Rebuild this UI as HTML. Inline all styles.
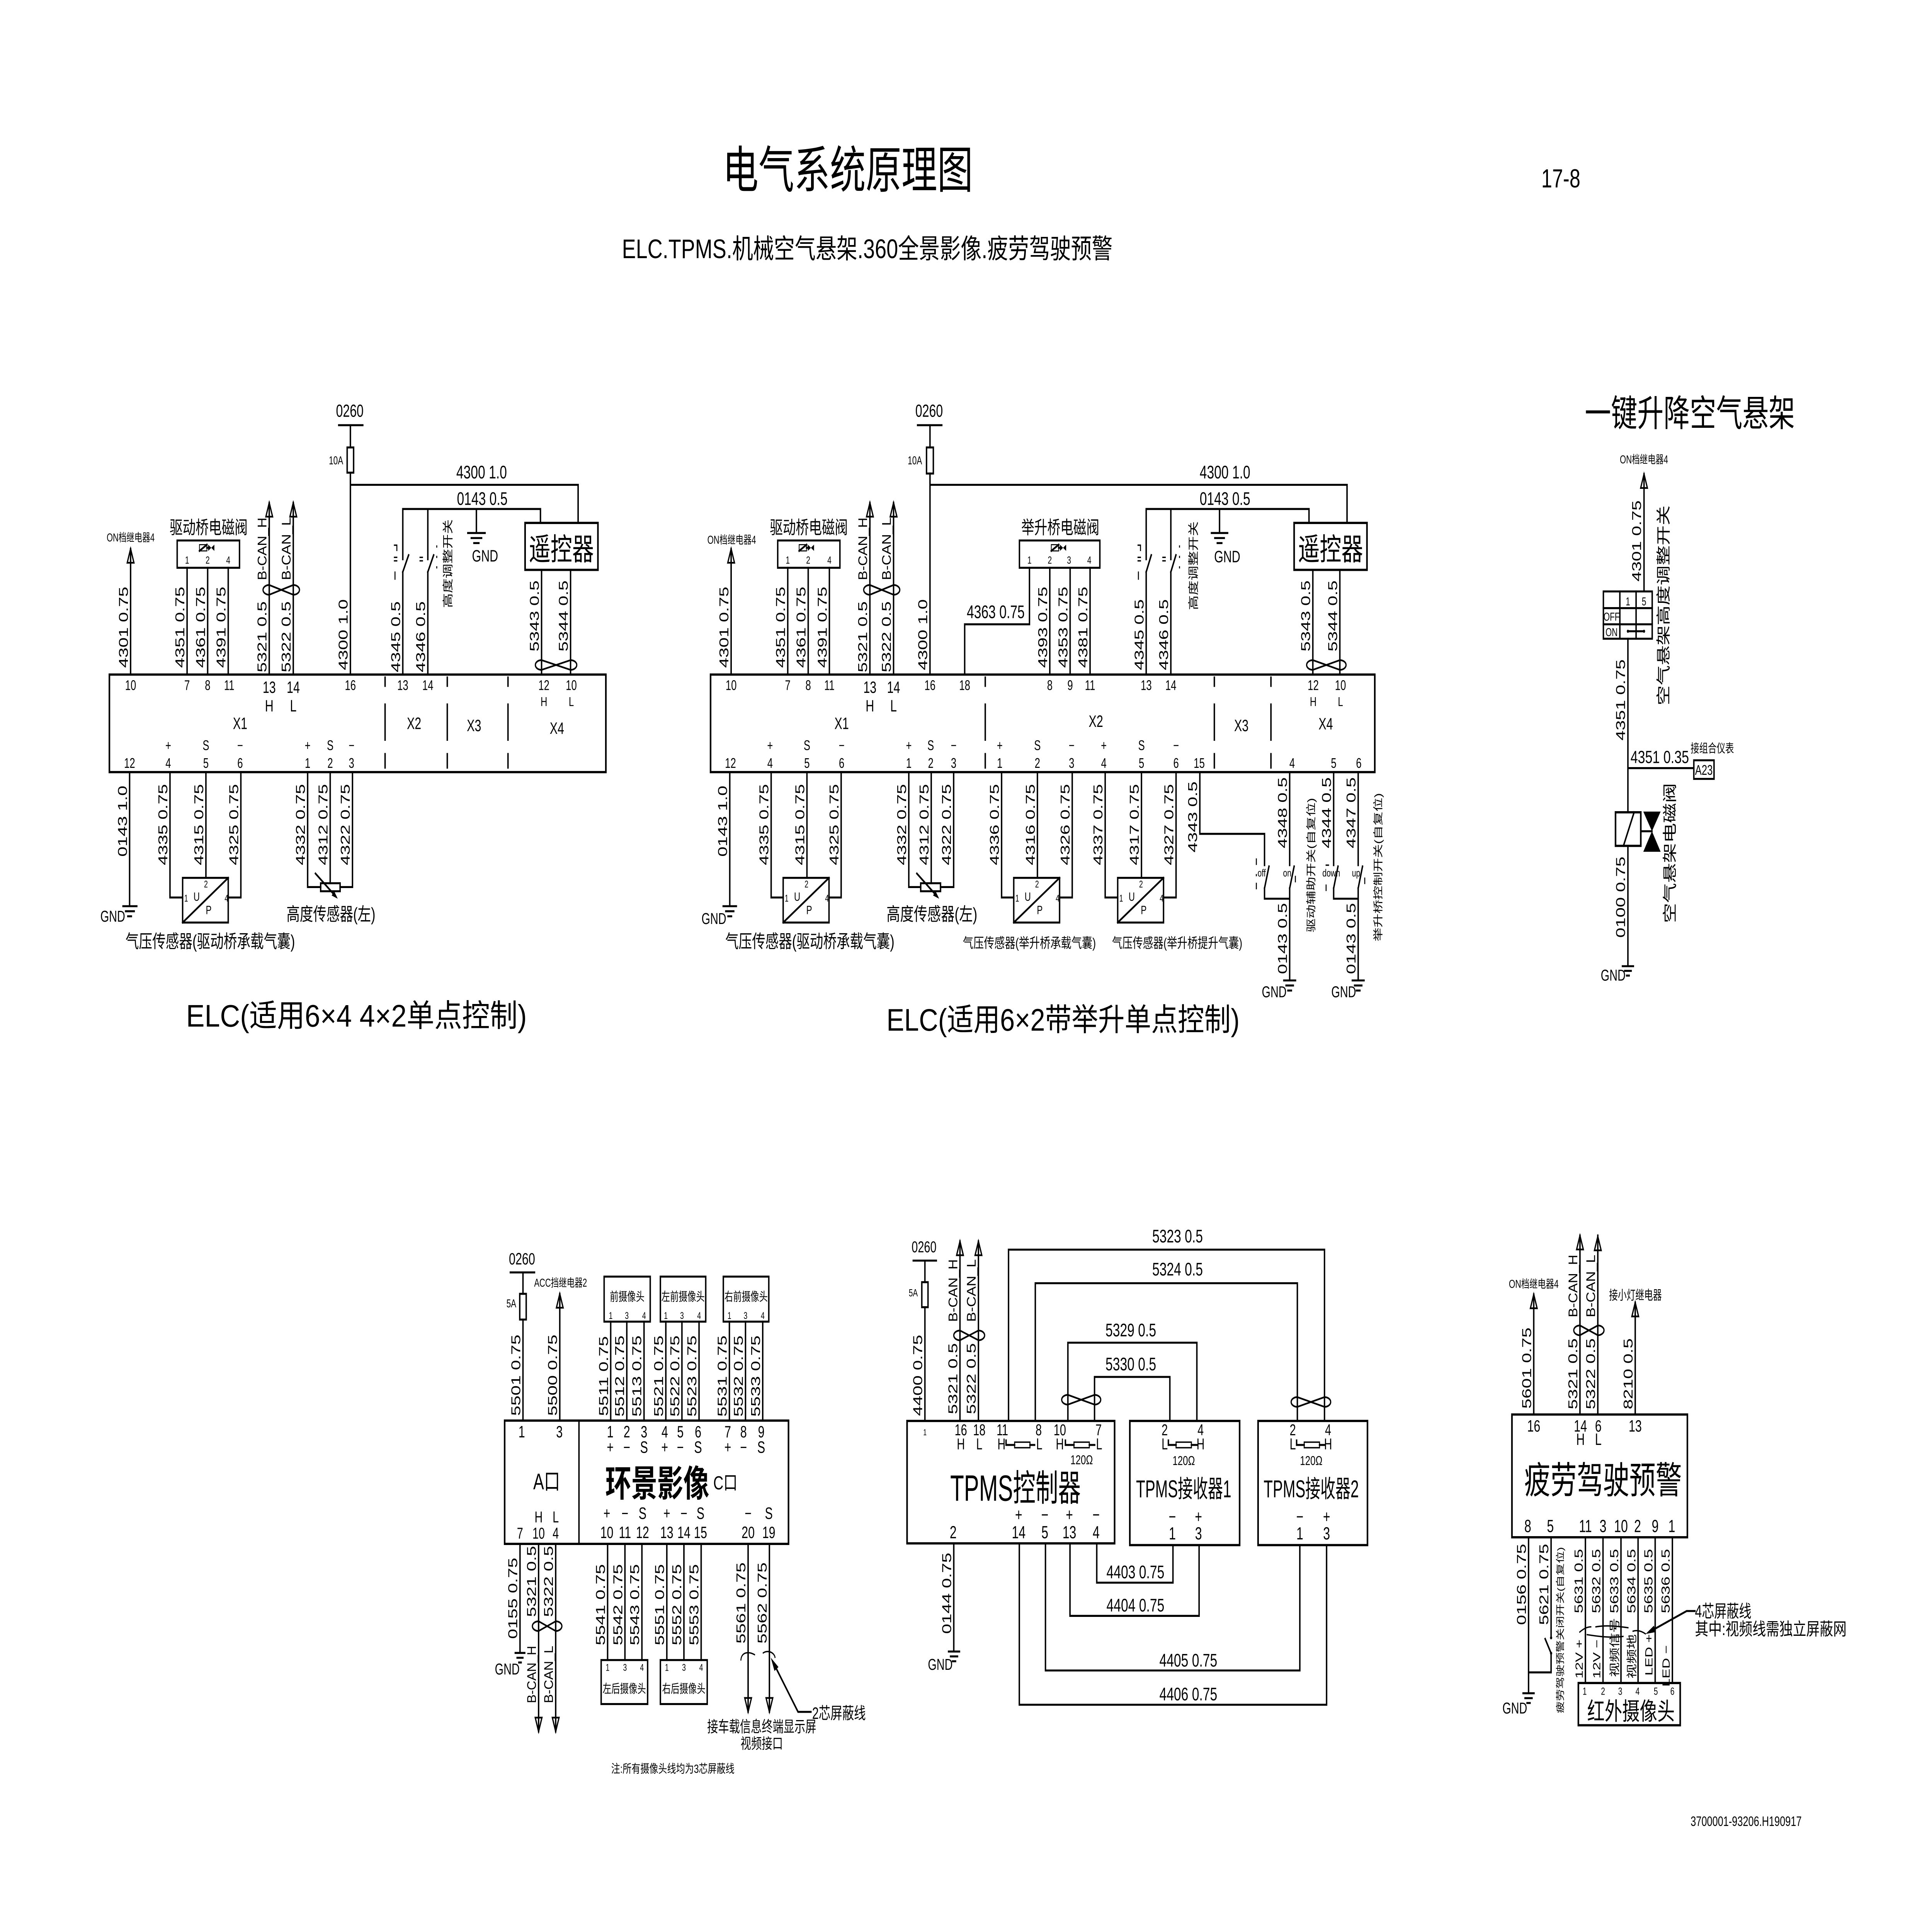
<!DOCTYPE html>
<html><head><meta charset="utf-8"><style>
html,body{margin:0;padding:0;background:#fff;width:100%;height:100%;overflow:hidden}
svg{display:block;width:100vw;height:100vh}
text{font-family:"Liberation Sans","Noto Sans CJK SC",sans-serif;fill:#000;stroke:none}
.m{text-anchor:middle}
.r{text-anchor:middle}
</style></head><body>
<svg xmlns="http://www.w3.org/2000/svg" viewBox="0 0 1559.33 1101.78" preserveAspectRatio="none">
<rect x="0" y="0" width="1559.33" height="1101.78" fill="#fff"/>

<!-- ================= LINES ================= -->
<g fill="none" stroke="#000" stroke-width="1.15" stroke-linecap="square">
<!-- LEFT ELC -->
<rect x="88.3" y="387.9" width="400.7" height="56.1" stroke-width="1.3"/>
<path d="M273.4,244.5H292.8 M282.8,244.5V257.3 M282.8,271.8V387.9 M282.8,278.8H466.6V300.7 M325.1,321.6V292.7H436.2V300.7 M345.3,321.6V292.7 M384.5,292.7V306.5 M377.6,306.5H391.5 M380.4,309.4H388.7 M382.5,312.3H386.5 M325.1,328.9V387.9 M325.1,328.9L329.8,319.2 M345.3,328.9V387.9 M345.3,328.9L350,319.2 M437.1,327.7V387.9 M460.5,327.7V387.9 M105.4,315.6V387.9 M151,326.5V387.9 M167.6,326.5V387.9 M184.2,326.5V387.9 M217.3,289.1V387.9 M236.7,289.1V387.9 M104.6,444V521.1 M99.3,521.1H110.4 M101.4,524H108.3 M103.2,526.9H106 M137.2,444V516.1H147.4 M166.2,444V504.8 M194.4,444V516.1H184.2 M147.4,530.5L184.2,504.8 M248.3,444V510.1H258.8 M284.5,444V510.1H274.5 M266.5,444V507.9 M254.6,502.3L271,515.5 M161,316.8L167,313.2 M167,315H168"/>
<rect x="280.2" y="257.3" width="5.2" height="14.5"/>
<rect x="423.8" y="300.7" width="58.8" height="27" stroke-width="1.3"/>
<rect x="143" y="310.8" width="50.3" height="15.7"/>
<rect x="161" y="313.2" width="6" height="3.6" stroke-width="0.6"/>
<rect x="147.4" y="504.8" width="36.8" height="25.7"/>
<rect x="258.8" y="507.9" width="15.7" height="4.6"/>
<path d="M318.3,313.5h2v3 M318.3,320.5h2 M318.3,322.5h2 M318.8,329v4 M339,320.5h2 M339,322.5h2 M352.5,314v0.5 M352.5,320v0.5 M352.5,326v0.5" stroke-width="0.8"/>

<!-- MIDDLE ELC -->
<rect x="573.5" y="387.9" width="536.1" height="56.1" stroke-width="1.3"/>
<path d="M740.6,244.5H760.1 M750.6,244.5V257.3 M750.6,272.3V387.9 M750.6,278.8H1087.2V300.7 M925.1,321.6V292.7H1056.5V300.7 M945,321.6V292.7 M984.3,292.7V306.5 M977.8,306.5H990.8 M980.5,309.4H988.1 M982.5,312.3H986.1 M925.1,328.9V387.9 M925.1,328.9L929.2,319.2 M945,328.9V387.9 M945,328.9L949.1,319.2 M1059.6,327.7V387.9 M1081.4,327.7V387.9 M590.1,315.6V387.9 M635.8,326.5V387.9 M652.3,326.5V387.9 M669.4,326.5V387.9 M702.1,289.1V387.9 M721.2,289.1V387.9 M778.6,387.9V359H830.9V326.5 M847.3,326.5V387.9 M863.7,326.5V387.9 M879.8,326.5V387.9 M589,444V521.1 M583.7,521.1H594.3 M585.8,524H592.2 M587.6,526.9H590.4 M622.4,444V516.1H632.1 M651.3,444V504.8 M678.9,444V516.1H669.1 M632.1,530.5L669.1,504.8 M733.5,444V510.1H743.1 M769.7,444V510.1H759.1 M751.6,444V507.9 M740,502.3L756.4,515.5 M808.4,444V516.1H818.2 M837.3,444V504.8 M865.4,444V516.1H855.2 M818.2,530.5L855.2,504.8 M892,444V516.1H902.1 M921.3,444V504.8 M949.2,444V516.1H939.1 M902.1,530.5L939.1,504.8 M968.4,444V479.5H1020.6V497.5 M1020.6,510.8L1024.2,498.2 M1020.6,510.8V516.8H1040.9 M1040.9,444V497.5 M1040.9,510.8L1044.5,498.2 M1040.9,510.8V563.8 M1036.2,563.8H1045.6 M1038,566.7H1043.8 M1039.5,569.6H1042.3 M1076.4,444V497.5 M1076.4,510.8L1079.9,498.2 M1076.4,510.8V516.8H1096.2 M1096.2,444V497.5 M1096.2,510.8L1099.7,498.2 M1096.2,510.8V563.8 M1091.5,563.8H1100.9 M1093.3,566.7H1099.1 M1094.8,569.6H1097.6 M645,316.8L651,313.2 M651,315H652 M848.5,316.8L854.5,313.2 M854.5,315H855.5"/>
<rect x="747.8" y="257.3" width="5.5" height="15"/>
<rect x="1044.5" y="300.7" width="58.8" height="27" stroke-width="1.3"/>
<rect x="627.7" y="310.8" width="50.2" height="15.7"/>
<rect x="822.8" y="310.8" width="64.9" height="15.7"/>
<rect x="645" y="313.2" width="6" height="3.6" stroke-width="0.6"/>
<rect x="848.5" y="313.2" width="6" height="3.6" stroke-width="0.6"/>
<rect x="632.1" y="504.8" width="37" height="25.7"/>
<rect x="818.2" y="504.8" width="37" height="25.7"/>
<rect x="902.1" y="504.8" width="37" height="25.7"/>
<rect x="743.1" y="507.9" width="16" height="4.6"/>
<path d="M918.5,313.5h2v3 M918.5,320.5h2 M918.5,322.5h2 M918.8,329v4 M938.5,320.5h2 M938.5,322.5h2 M952,314v0.5 M952,320v0.5 M952,326v0.5 M1014,494v3 M1014,503v0.5 M1014,508v3 M1045.5,504v3 M1070.3,497.5h2 M1070.3,509v3 M1101.5,505v3" stroke-width="0.8"/>

<!-- TOP RIGHT -->
<path d="M1326.9,272.6V340.1 M1313.9,367.3V467.1 M1313.9,441.7H1367.1 M1313.9,486.4V555.6 M1309.5,555.6H1318.3 M1311.3,558.3H1316.5 M1312.9,561H1314.9 M1294.1,349.7H1333.5 M1294.1,359H1333.5 M1307.4,340.1V367.3 M1320.5,340.1V367.3 M1313.9,363H1326.9 M1310.3,486.4L1318.9,467.1 M1324.3,478H1333.3"/>
<rect x="1294.1" y="340.1" width="39.4" height="27.2"/>
<rect x="1303.9" y="467.1" width="20.4" height="19.3" stroke-width="1.3"/>
<rect x="1367.1" y="437.2" width="16.3" height="10.7"/>

<!-- BOTTOM LEFT -->
<path d="M411.9,731.7H431.4 M422.1,731.7V744 M422.1,758.8V816.9 M451.8,744V816.9 M467.3,816.9V887.8 M492.9,760V816.9 M505.9,760V816.9 M519.8,760V816.9 M537.4,760V816.9 M550.4,760V816.9 M564.2,760V816.9 M588.7,760V816.9 M601.7,760V816.9 M615.6,760V816.9 M419.7,887.8V950.5 M415.9,950.5H423.5 M417.4,953.3H422 M418.8,956H420.6 M434.7,887.8V995.7 M448.5,887.8V995.7 M490.4,887.8V954.6 M504.4,887.8V954.6 M518.1,887.8V954.6 M538.2,887.8V954.6 M552,887.8V954.6 M565.9,887.8V954.6 M603.8,887.8V984.4 M621,887.8V984.4 M625.5,958L644.1,984.4H654.5"/>
<path d="M598,954.5C598.5,950 604,949.5 609,951.5 M616,950.5C620,948.5 625,950.5 625.5,953" stroke-width="0.8"/>
<rect x="419.5" y="744" width="5.2" height="14.8"/>
<rect x="407.3" y="816.9" width="229.1" height="70.9" stroke-width="1.3"/>
<rect x="487.6" y="734.1" width="37.2" height="25.9"/>
<rect x="533" y="734.1" width="36.6" height="25.9"/>
<rect x="583.8" y="734.1" width="36.7" height="25.9"/>
<rect x="485.2" y="954.6" width="37.5" height="25.3"/>
<rect x="533" y="954.6" width="37.8" height="25.3"/>

<!-- TPMS -->
<path d="M737.1,724.9H755.7 M746.5,724.9V737.3 M746.5,751.7V817.1 M774.8,713.8V817.1 M789.7,713.8V817.1 M814,817.1V718.6H1069V817.1 M835.6,817.1V737.9H1047.1V817.1 M861.9,817.1V772.1H966V817.1 M883.4,817.1V791.8H944.2V817.1 M769.8,887.5V949.7 M765.6,949.7H774.4 M767.2,952.5H772.8 M768.8,955.3H771.2 M885.2,887.5V910.1H946.7V888.5 M863.6,887.5V929.2H967.8V888.5 M843.8,887.5V960.6H1049.1V888.5 M822.7,887.5V980.3H1070.7V888.5 M812,828.3V830.9H818.9 M831.3,830.9H835 M859.9,828.3V830.9H866.8 M879.2,830.9H883.5 M943,828.3V830.9H949.2 M961.6,830.9H966 M1046.5,828.3V830.9H1052.6 M1065,830.9H1069"/>
<rect x="744" y="737.3" width="5" height="14.4"/>
<rect x="732.1" y="817.1" width="167.5" height="70.4" stroke-width="1.3"/>
<rect x="911.9" y="817.1" width="88.6" height="71.4" stroke-width="1.3"/>
<rect x="1015.4" y="817.1" width="88.3" height="71.4" stroke-width="1.3"/>
<rect x="818.9" y="829.3" width="12.4" height="3.2" stroke-width="0.8"/>
<rect x="866.8" y="829.3" width="12.4" height="3.2" stroke-width="0.8"/>
<rect x="949.2" y="829.3" width="12.4" height="3.2" stroke-width="0.8"/>
<rect x="1052.6" y="829.3" width="12.4" height="3.2" stroke-width="0.8"/>

<!-- BOTTOM RIGHT -->
<path d="M1237.9,744.3V813.4 M1275.2,710.5V813.4 M1289.6,710.5V813.4 M1319.8,749V813.4 M1233.7,884V973.7 M1229.3,973.7H1238.1 M1230.9,976.5H1236.5 M1232.5,979.3H1234.9 M1251.9,884V941.8 M1251.9,950.7L1247.1,942.4 M1251.9,950.7V961.7H1233.7 M1279.6,884V967.8 M1293.8,884V967.8 M1308.3,884V967.8 M1322.1,884V967.8 M1335.9,884V967.8 M1349.8,884V967.8 M1334,937.3L1361.3,926.4H1368"/>
<path d="M1275,938.5C1279,936 1282,935.5 1284,935.5 M1288,935.5C1296,934.5 1304,935 1314,936 M1281,940C1290,941 1300,942 1310,941 M1318,938C1322,937 1326,938.5 1328,939.5" stroke-width="0.8"/>
<rect x="1220.3" y="813.4" width="141.6" height="70.6" stroke-width="1.3"/>
<rect x="1273.9" y="967.8" width="82.2" height="24.3" stroke-width="1.3"/>

<!-- twisted pair symbols -->
<path stroke-width="1" d="
M217.3,336.4L236.7,342 A5 2.8 0 0 0 236.7,336.4 L217.3,342 A5 2.8 0 0 1 217.3,336.4Z
M437.1,379.6L460.5,385.2 A5 2.8 0 0 0 460.5,379.6 L437.1,385.2 A5 2.8 0 0 1 437.1,379.6Z
M702.1,336.4L721.2,342 A5 2.8 0 0 0 721.2,336.4 L702.1,342 A5 2.8 0 0 1 702.1,336.4Z
M1059.6,379.6L1081.4,385.2 A5 2.8 0 0 0 1081.4,379.6 L1059.6,385.2 A5 2.8 0 0 1 1059.6,379.6Z
M434.7,932.3L448.5,937.9 A5 2.8 0 0 0 448.5,932.3 L434.7,937.9 A5 2.8 0 0 1 434.7,932.3Z
M774.8,765.1L789.7,770.7 A5 2.8 0 0 0 789.7,765.1 L774.8,770.7 A5 2.8 0 0 1 774.8,765.1Z
M861.9,802.1L883.4,807.7 A5 2.8 0 0 0 883.4,802.1 L861.9,807.7 A5 2.8 0 0 1 861.9,802.1Z
M1047.1,803.4L1069,809 A5 2.8 0 0 0 1069,803.4 L1047.1,809 A5 2.8 0 0 1 1047.1,803.4Z
M1275.2,762.2L1289.6,767.8 A5 2.8 0 0 0 1289.6,762.2 L1275.2,767.8 A5 2.8 0 0 1 1275.2,762.2Z"/>

<!-- open arrowheads -->
<path stroke-width="1" d="
M105.4,315.6L102.7,323.6H108.1Z M217.3,289.1L214.6,297.1H220Z M236.7,289.1L234,297.1H239.4Z
M590.1,315.6L587.4,323.6H592.8Z M702.1,289.1L699.4,297.1H704.8Z M721.2,289.1L718.5,297.1H723.9Z
M1326.9,272.6L1324.2,280.6H1329.6Z M451.8,744L449.1,752H454.5Z
M774.8,713.8L772.1,721.8H777.5Z M789.7,713.8L787,721.8H792.4Z
M1237.9,744.3L1235.2,752.3H1240.6Z M1275.2,710.5L1272.5,718.5H1277.9Z M1289.6,711L1286.9,719H1292.3Z M1319.8,749L1317.1,757H1322.5Z
M434.7,995.7L432,987.7H437.4Z M448.5,995.7L445.8,987.7H451.2Z M603.8,984.4L601.1,976.4H606.5Z M621,984.4L618.3,976.4H623.7Z"/>
</g>

<!-- dashed dividers -->
<g fill="none" stroke="#000" stroke-width="1.15" stroke-dasharray="6 9.5 21.5 7 9">
<path d="M310.8,389V444 M361,389V444 M410,389V444 M795.2,389V444 M980.1,389V444 M1025.8,389V444"/>
</g>

<!-- filled shapes -->
<g fill="#000" stroke="none">
<polygon points="168,313.2 173,316.8 173,313.2 168,316.8"/>
<polygon points="652,313.2 657,316.8 657,313.2 652,316.8"/>
<polygon points="855.5,313.2 860.5,316.8 860.5,313.2 855.5,316.8"/>
<polygon points="272.6,516.8 267.7,514.95 269.7,512.45"/>
<polygon points="758,516.8 753.1,514.95 755.1,512.45"/>
<polygon points="1326.3,466.7 1340.3,466.7 1333.3,478"/>
<polygon points="1326.3,489.8 1340.3,489.8 1333.3,478"/>
<polygon points="622.1,953.2 628.3,958.6 625.1,960.9"/>
<polygon points="1328.2,939.6 1336.3,938.5 1334.9,934.8"/>
<circle cx="1313.9" cy="363" r="0.9"/><circle cx="1326.9" cy="363" r="0.9"/>
<circle cx="1251.9" cy="941.8" r="0.9"/><circle cx="1251.9" cy="950.7" r="0.9"/>
</g>

<!-- ================= TEXT ================= -->
<g>
<text x="583.3" y="108" font-size="29" textLength="202" lengthAdjust="spacingAndGlyphs">电气系统原理图</text>
<text x="1244" y="107.8" font-size="15" textLength="31.5" lengthAdjust="spacingAndGlyphs">17-8</text>
<text x="502" y="148.5" font-size="15.5" textLength="396" lengthAdjust="spacingAndGlyphs">ELC.TPMS.机械空气悬架.360全景影像.疲劳驾驶预警</text>
<text x="1364.5" y="1050" font-size="7.8" textLength="89.6" lengthAdjust="spacingAndGlyphs">3700001-93206.H190917</text>

<!-- LEFT ELC text -->
<text class="m" x="282.3" y="239.7" font-size="10">0260</text>
<text class="m" x="271.2" y="267" font-size="6.5">10A</text>
<text class="m" x="388.7" y="275.1" font-size="10.5">4300 1.0</text>
<text class="m" x="389.2" y="290.3" font-size="10.5">0143 0.5</text>
<text class="m" x="391.5" y="322.9" font-size="9.5">GND</text>
<text class="m" x="453.1" y="322" font-size="17.5">遥控器</text>
<text x="86.1" y="311.3" font-size="6.5" textLength="38.7" lengthAdjust="spacingAndGlyphs">ON档继电器4</text>
<text class="m" x="168.4" y="307" font-size="10.5">驱动桥电磁阀</text>
<g font-size="6"><text class="m" x="151" y="324.1">1</text><text class="m" x="167.6" y="324.1">2</text><text class="m" x="184.2" y="324.1">4</text></g>
<g font-size="8">
<text class="m" x="105.4" y="396.8">10</text><text class="m" x="151" y="396.8">7</text><text class="m" x="167.6" y="396.8">8</text><text class="m" x="185" y="396.8">11</text><text class="m" x="282.8" y="396.8">16</text><text class="m" x="325.1" y="396.8">13</text><text class="m" x="345.3" y="396.8">14</text><text class="m" x="439" y="396.8">12</text><text class="m" x="461.1" y="396.8">10</text>
</g>
<g font-size="9.5">
<text class="m" x="217.3" y="398.5">13</text><text class="m" x="236.7" y="398.5">14</text><text class="m" x="217.3" y="409.1">H</text><text class="m" x="236.7" y="409.1">L</text>
<text class="m" x="193.8" y="419.2">X1</text><text class="m" x="334.2" y="419.2">X2</text><text class="m" x="382.6" y="420.5">X3</text><text class="m" x="449.5" y="422">X4</text>
</g>
<g font-size="7.5"><text class="m" x="439" y="406">H</text><text class="m" x="461.1" y="406">L</text></g>
<g font-size="8">
<text class="m" x="135.8" y="431.3">+</text><text class="m" x="166.2" y="431.3">S</text><text class="m" x="193.8" y="431.3">−</text><text class="m" x="248.3" y="431.3">+</text><text class="m" x="266.5" y="431.3">S</text><text class="m" x="283.7" y="431.3">−</text>
<text class="m" x="104.6" y="441.6">12</text><text class="m" x="135.8" y="441.6">4</text><text class="m" x="166.2" y="441.6">5</text><text class="m" x="193.8" y="441.6">6</text><text class="m" x="248.3" y="441.6">1</text><text class="m" x="266.5" y="441.6">2</text><text class="m" x="283.7" y="441.6">3</text>
</g>
<text class="m" x="91" y="530" font-size="9">GND</text>
<g font-size="7"><text class="m" x="158.7" y="518">U</text><text class="m" x="168.4" y="525.7">P</text></g>
<g font-size="5.5"><text class="m" x="150.2" y="518.5">1</text><text class="m" x="166.2" y="510.3">2</text><text class="m" x="182.8" y="518.5">4</text></g>
<text x="101.3" y="545" font-size="10.5" textLength="136.8" lengthAdjust="spacingAndGlyphs">气压传感器(驱动桥承载气囊)</text>
<text x="231.2" y="529.3" font-size="10.5" textLength="71.8" lengthAdjust="spacingAndGlyphs">高度传感器(左)</text>
<text x="150.2" y="590.3" font-size="18" textLength="275" lengthAdjust="spacingAndGlyphs">ELC(适用6×4 4×2单点控制)</text>

<!-- MIDDLE ELC text -->
<text class="m" x="749.9" y="239.7" font-size="10">0260</text>
<text class="m" x="738.4" y="267" font-size="6.5">10A</text>
<text class="m" x="988.7" y="275.1" font-size="10.5">4300 1.0</text>
<text class="m" x="988.7" y="290.3" font-size="10.5">0143 0.5</text>
<text class="m" x="990.5" y="323.3" font-size="9.5">GND</text>
<text class="m" x="1073.9" y="322" font-size="17.5">遥控器</text>
<text x="570.9" y="312.7" font-size="6.5" textLength="39.3" lengthAdjust="spacingAndGlyphs">ON档继电器4</text>
<text class="m" x="652.8" y="307" font-size="10.5">驱动桥电磁阀</text>
<text class="m" x="855.8" y="307" font-size="10.5">举升桥电磁阀</text>
<g font-size="6">
<text class="m" x="635.8" y="324.1">1</text><text class="m" x="652.3" y="324.1">2</text><text class="m" x="669.4" y="324.1">4</text>
<text class="m" x="830.9" y="324.1">1</text><text class="m" x="847.3" y="324.1">2</text><text class="m" x="862.8" y="324.1">3</text><text class="m" x="879.2" y="324.1">4</text>
</g>
<text x="780.3" y="355.4" font-size="10.5">4363 0.75</text>
<g font-size="8">
<text class="m" x="590.1" y="396.8">10</text><text class="m" x="635.8" y="396.8">7</text><text class="m" x="652.3" y="396.8">8</text><text class="m" x="669.4" y="396.8">11</text><text class="m" x="750.6" y="396.8">16</text><text class="m" x="778.6" y="396.8">18</text><text class="m" x="847.3" y="396.8">8</text><text class="m" x="863.7" y="396.8">9</text><text class="m" x="879.8" y="396.8">11</text><text class="m" x="925.1" y="396.8">13</text><text class="m" x="945" y="396.8">14</text><text class="m" x="1059.9" y="396.8">12</text><text class="m" x="1081.9" y="396.8">10</text>
</g>
<g font-size="9.5">
<text class="m" x="702.1" y="398.5">13</text><text class="m" x="721.2" y="398.5">14</text><text class="m" x="702.1" y="409.1">H</text><text class="m" x="721.2" y="409.1">L</text>
<text class="m" x="679.3" y="419.2">X1</text><text class="m" x="884.5" y="418">X2</text><text class="m" x="1001.9" y="420.5">X3</text><text class="m" x="1070" y="419.5">X4</text>
</g>
<g font-size="7.5"><text class="m" x="1059.9" y="406">H</text><text class="m" x="1081.9" y="406">L</text></g>
<g font-size="8">
<text class="m" x="621.5" y="431.3">+</text><text class="m" x="651.3" y="431.3">S</text><text class="m" x="679.3" y="431.3">−</text>
<text class="m" x="733.5" y="431.3">+</text><text class="m" x="751.2" y="431.3">S</text><text class="m" x="769.7" y="431.3">−</text>
<text class="m" x="806.9" y="431.3">+</text><text class="m" x="837.3" y="431.3">S</text><text class="m" x="864.9" y="431.3">−</text>
<text class="m" x="890.9" y="431.3">+</text><text class="m" x="921.3" y="431.3">S</text><text class="m" x="949.2" y="431.3">−</text>
<text class="m" x="589.6" y="441.6">12</text><text class="m" x="621.5" y="441.6">4</text><text class="m" x="651.3" y="441.6">5</text><text class="m" x="679.3" y="441.6">6</text>
<text class="m" x="733.5" y="441.6">1</text><text class="m" x="751.2" y="441.6">2</text><text class="m" x="769.7" y="441.6">3</text>
<text class="m" x="806.9" y="441.6">1</text><text class="m" x="837.3" y="441.6">2</text><text class="m" x="864.9" y="441.6">3</text>
<text class="m" x="890.9" y="441.6">4</text><text class="m" x="921.3" y="441.6">5</text><text class="m" x="949.2" y="441.6">6</text><text class="m" x="967.9" y="441.6">15</text>
<text class="m" x="1042.9" y="441.6">4</text><text class="m" x="1076.4" y="441.6">5</text><text class="m" x="1096.7" y="441.6">6</text>
</g>
<text class="m" x="576.2" y="531.3" font-size="9">GND</text>
<g font-size="7">
<text class="m" x="643.4" y="518">U</text><text class="m" x="653.1" y="525.7">P</text>
<text class="m" x="829.5" y="518">U</text><text class="m" x="839.2" y="525.7">P</text>
<text class="m" x="913.4" y="518">U</text><text class="m" x="923.1" y="525.7">P</text>
</g>
<g font-size="5.5">
<text class="m" x="634.9" y="518.5">1</text><text class="m" x="650.9" y="510.3">2</text><text class="m" x="667.5" y="518.5">4</text>
<text class="m" x="821" y="518.5">1</text><text class="m" x="837" y="510.3">2</text><text class="m" x="853.6" y="518.5">4</text>
<text class="m" x="904.9" y="518.5">1</text><text class="m" x="920.9" y="510.3">2</text><text class="m" x="937.5" y="518.5">4</text>
</g>
<text x="585.4" y="545" font-size="10.5" textLength="136.5" lengthAdjust="spacingAndGlyphs">气压传感器(驱动桥承载气囊)</text>
<text x="715.5" y="529.3" font-size="10.5" textLength="73.3" lengthAdjust="spacingAndGlyphs">高度传感器(左)</text>
<text x="777.1" y="545" font-size="8" textLength="107.4" lengthAdjust="spacingAndGlyphs">气压传感器(举升桥承载气囊)</text>
<text x="897.5" y="545" font-size="8" textLength="105.2" lengthAdjust="spacingAndGlyphs">气压传感器(举升桥提升气囊)</text>
<g font-size="6">
<text class="m" x="1018.3" y="504">off</text><text class="m" x="1038.9" y="504">on</text><text class="m" x="1074.5" y="504">down</text><text class="m" x="1094.5" y="504">up</text>
</g>
<text class="m" x="1028.4" y="573.4" font-size="9">GND</text>
<text class="m" x="1084.5" y="573.4" font-size="9">GND</text>
<text x="715.5" y="592.7" font-size="18" textLength="285" lengthAdjust="spacingAndGlyphs">ELC(适用6×2带举升单点控制)</text>

<!-- TOP RIGHT text -->
<text x="1279.1" y="245" font-size="21" textLength="169.6" lengthAdjust="spacingAndGlyphs">一键升降空气悬架</text>
<text x="1307.4" y="266.4" font-size="6.5" textLength="38.9" lengthAdjust="spacingAndGlyphs">ON档继电器4</text>
<g font-size="6.5">
<text class="m" x="1313.9" y="348.1">1</text><text class="m" x="1326.9" y="348.1">5</text>
<text class="m" x="1300.7" y="356.9">OFF</text><text class="m" x="1300.7" y="365.8">ON</text>
</g>
<text x="1316" y="438.8" font-size="10" textLength="47.2" lengthAdjust="spacingAndGlyphs">4351 0.35</text>
<text x="1364.5" y="432.7" font-size="7" textLength="35" lengthAdjust="spacingAndGlyphs">接组合仪表</text>
<text class="m" x="1375.2" y="445.6" font-size="8">A23</text>
<text class="m" x="1302" y="563.9" font-size="9">GND</text>

<!-- BOTTOM LEFT text -->
<text class="m" x="421.3" y="727.1" font-size="9.5">0260</text>
<text class="m" x="412.7" y="751.8" font-size="6.5">5A</text>
<text x="431.1" y="739.9" font-size="6.5" textLength="42.7" lengthAdjust="spacingAndGlyphs">ACC挡继电器2</text>
<g font-size="7">
<text class="m" x="506.2" y="748">前摄像头</text><text class="m" x="551.3" y="748">左前摄像头</text><text class="m" x="602.2" y="748">右前摄像头</text>
<text class="m" x="503.9" y="973.4">左后摄像头</text><text class="m" x="551.9" y="973.4">右后摄像头</text>
</g>
<g font-size="5.5">
<text class="m" x="492.9" y="758.4">1</text><text class="m" x="505.9" y="758.4">3</text><text class="m" x="519.8" y="758.4">4</text>
<text class="m" x="537.4" y="758.4">1</text><text class="m" x="550.4" y="758.4">3</text><text class="m" x="564.2" y="758.4">4</text>
<text class="m" x="588.7" y="758.4">1</text><text class="m" x="601.7" y="758.4">3</text><text class="m" x="615.6" y="758.4">4</text>
<text class="m" x="490.4" y="960.8">1</text><text class="m" x="504.4" y="960.8">3</text><text class="m" x="518.1" y="960.8">4</text>
<text class="m" x="538.2" y="960.8">1</text><text class="m" x="552" y="960.8">3</text><text class="m" x="565.9" y="960.8">4</text>
</g>
<g font-size="9.5">
<text class="m" x="421.1" y="826.6">1</text><text class="m" x="451.5" y="826.6">3</text>
<text class="m" x="492.5" y="826.6">1</text><text class="m" x="505.9" y="826.6">2</text><text class="m" x="519.8" y="826.6">3</text>
<text class="m" x="536.5" y="826.6">4</text><text class="m" x="549.1" y="826.6">5</text><text class="m" x="563.4" y="826.6">6</text>
<text class="m" x="587.4" y="826.6">7</text><text class="m" x="600.1" y="826.6">8</text><text class="m" x="614.4" y="826.6">9</text>
<text class="m" x="492.5" y="835.5">+</text><text class="m" x="505.9" y="835.5">−</text><text class="m" x="519.8" y="835.5">S</text>
<text class="m" x="536.5" y="835.5">+</text><text class="m" x="549.1" y="835.5">−</text><text class="m" x="563.4" y="835.5">S</text>
<text class="m" x="587.4" y="835.5">+</text><text class="m" x="600.1" y="835.5">−</text><text class="m" x="614.4" y="835.5">S</text>
<text class="m" x="489.8" y="873.5">+</text><text class="m" x="504.4" y="873.5">−</text><text class="m" x="518.6" y="873.5">S</text>
<text class="m" x="538.2" y="873.5">+</text><text class="m" x="552" y="873.5">−</text><text class="m" x="565.4" y="873.5">S</text>
<text class="m" x="603.8" y="873.5">−</text><text class="m" x="620.5" y="873.5">S</text>
<text class="m" x="489.8" y="884.4">10</text><text class="m" x="504.4" y="884.4">11</text><text class="m" x="518.6" y="884.4">12</text>
<text class="m" x="538.2" y="884.4">13</text><text class="m" x="552" y="884.4">14</text><text class="m" x="565.4" y="884.4">15</text>
<text class="m" x="603.8" y="884.4">20</text><text class="m" x="620.5" y="884.4">19</text>
</g>
<g font-size="9">
<text class="m" x="434.7" y="875.5">H</text><text class="m" x="448.5" y="875.5">L</text>
<text class="m" x="419.7" y="884.8">7</text><text class="m" x="434.7" y="884.8">10</text><text class="m" x="448.5" y="884.8">4</text>
</g>
<text class="m" x="441.2" y="856.4" font-size="13">A口</text>
<text x="488.5" y="860.5" font-size="21" font-weight="bold" textLength="84" lengthAdjust="spacingAndGlyphs">环景影像</text>
<text x="575.7" y="856.4" font-size="11" textLength="19.5" lengthAdjust="spacingAndGlyphs">C口</text>
<text class="m" x="409.4" y="962.9" font-size="9">GND</text>
<text x="655.5" y="988.5" font-size="9.5">2芯屏蔽线</text>
<text x="570.8" y="996" font-size="9" textLength="88" lengthAdjust="spacingAndGlyphs">接车载信息终端显示屏</text>
<text x="597.7" y="1005.6" font-size="8.5" textLength="34.2" lengthAdjust="spacingAndGlyphs">视频接口</text>
<text x="493.3" y="1019.4" font-size="6.8" textLength="99.5" lengthAdjust="spacingAndGlyphs">注:所有摄像头线均为3芯屏蔽线</text>

<!-- TPMS text -->
<text class="m" x="745.8" y="720.1" font-size="9">0260</text>
<text class="m" x="737.1" y="745.5" font-size="6">5A</text>
<g font-size="10.5">
<text class="m" x="950.4" y="714.4">5323 0.5</text><text class="m" x="950.4" y="733.5">5324 0.5</text>
<text class="m" x="912.7" y="768.5">5329 0.5</text><text class="m" x="912.7" y="788">5330 0.5</text>
<text class="m" x="916.4" y="907.6">4403 0.75</text><text class="m" x="916.4" y="926.7">4404 0.75</text>
<text class="m" x="959.1" y="958.3">4405 0.75</text><text class="m" x="959.1" y="977.8">4406 0.75</text>
</g>
<text class="m" x="746.5" y="825.3" font-size="5">1</text>
<g font-size="9">
<text class="m" x="775.5" y="825.3">16</text><text class="m" x="790.4" y="825.3">18</text><text class="m" x="809" y="825.3">11</text><text class="m" x="838.3" y="825.3">8</text><text class="m" x="855.4" y="825.3">10</text><text class="m" x="886.7" y="825.3">7</text>
<text class="m" x="775.5" y="833.5">H</text><text class="m" x="790.4" y="833.5">L</text><text class="m" x="808.3" y="833.5">H</text><text class="m" x="838.8" y="833.5">L</text><text class="m" x="855.4" y="833.5">H</text><text class="m" x="887.1" y="833.5">L</text>
<text class="m" x="940" y="825.3">2</text><text class="m" x="969" y="825.3">4</text><text class="m" x="940" y="833.5">L</text><text class="m" x="969" y="833.5">H</text>
<text class="m" x="1043.4" y="825.3">2</text><text class="m" x="1071.9" y="825.3">4</text><text class="m" x="1043.4" y="833.5">L</text><text class="m" x="1071.9" y="833.5">H</text>
</g>
<g font-size="7.5">
<text class="m" x="873" y="842">120Ω</text><text class="m" x="955.4" y="842.5">120Ω</text><text class="m" x="1058.3" y="842.5">120Ω</text>
</g>
<text x="766.9" y="863" font-size="21" textLength="105.4" lengthAdjust="spacingAndGlyphs">TPMS控制器</text>
<text x="916.9" y="861" font-size="14" textLength="76.9" lengthAdjust="spacingAndGlyphs">TPMS接收器1</text>
<text x="1019.9" y="861" font-size="14" textLength="76.8" lengthAdjust="spacingAndGlyphs">TPMS接收器2</text>
<g font-size="10">
<text class="m" x="822.2" y="874.5">+</text><text class="m" x="843.3" y="874.5">−</text><text class="m" x="863.1" y="874.5">+</text><text class="m" x="884.7" y="874.5">−</text>
<text class="m" x="769.3" y="884.6">2</text><text class="m" x="822.2" y="884.6">14</text><text class="m" x="843.3" y="884.6">5</text><text class="m" x="863.1" y="884.6">13</text><text class="m" x="884.7" y="884.6">4</text>
<text class="m" x="946.2" y="875.6">−</text><text class="m" x="967.3" y="875.6">+</text><text class="m" x="946.2" y="885.2">1</text><text class="m" x="967.3" y="885.2">3</text>
<text class="m" x="1049.1" y="875.6">−</text><text class="m" x="1070.7" y="875.6">+</text><text class="m" x="1049.1" y="885.2">1</text><text class="m" x="1070.7" y="885.2">3</text>
</g>
<text class="m" x="758.9" y="960.2" font-size="9">GND</text>

<!-- BOTTOM RIGHT text -->
<text x="1217.8" y="740.6" font-size="6.5" textLength="40.2" lengthAdjust="spacingAndGlyphs">ON档继电器4</text>
<text x="1298.7" y="747.3" font-size="7.5" textLength="42.5" lengthAdjust="spacingAndGlyphs">接小灯继电器</text>
<g font-size="9.5">
<text class="m" x="1237.9" y="823.2">16</text><text class="m" x="1275.6" y="823.2">14</text><text class="m" x="1290" y="823.2">6</text><text class="m" x="1319.8" y="823.2">13</text>
<text class="m" x="1275.6" y="830.9">H</text><text class="m" x="1290" y="830.9">L</text>
</g>
<text x="1230.2" y="858.8" font-size="21.5" textLength="127.3" lengthAdjust="spacingAndGlyphs">疲劳驾驶预警</text>
<g font-size="10">
<text class="m" x="1233.1" y="881">8</text><text class="m" x="1251.3" y="881">5</text><text class="m" x="1279.6" y="881">11</text><text class="m" x="1293.8" y="881">3</text><text class="m" x="1308.3" y="881">10</text><text class="m" x="1321.7" y="881">2</text><text class="m" x="1335.9" y="881">9</text><text class="m" x="1349.3" y="881">1</text>
</g>
<text class="m" x="1222.6" y="985.3" font-size="9">GND</text>
<text x="1368" y="930" font-size="10">4芯屏蔽线</text>
<text x="1368" y="940.2" font-size="10" textLength="122.4" lengthAdjust="spacingAndGlyphs">其中:视频线需独立屏蔽网</text>
<g font-size="6">
<text class="m" x="1279" y="974.6">1</text><text class="m" x="1293.8" y="974.6">2</text><text class="m" x="1307.7" y="974.6">3</text><text class="m" x="1321.7" y="974.6">4</text><text class="m" x="1336.4" y="974.6">5</text><text class="m" x="1349.8" y="974.6">6</text>
</g>
<text x="1281" y="989" font-size="14" textLength="70.7" lengthAdjust="spacingAndGlyphs">红外摄像头</text>

<!-- ================= ROTATED LABELS ================= -->
<g font-size="10.5">
<text class="r" transform="translate(103.2,360.7) rotate(-90)">4301 0.75</text>
<text class="r" transform="translate(148.8,360.7) rotate(-90)">4351 0.75</text>
<text class="r" transform="translate(165.4,360.7) rotate(-90)">4361 0.75</text>
<text class="r" transform="translate(182,360.7) rotate(-90)">4391 0.75</text>
<text class="r" transform="translate(215.1,315.6) rotate(-90)" font-size="10" textLength="36" lengthAdjust="spacingAndGlyphs">B-CAN_H</text>
<text class="r" transform="translate(215.1,366.2) rotate(-90)">5321 0.5</text>
<text class="r" transform="translate(234.5,315.6) rotate(-90)" font-size="10" textLength="36" lengthAdjust="spacingAndGlyphs">B-CAN_L</text>
<text class="r" transform="translate(234.5,366.2) rotate(-90)">5322 0.5</text>
<text class="r" transform="translate(280.6,365) rotate(-90)">4300 1.0</text>
<text class="r" transform="translate(322.9,366.2) rotate(-90)">4345 0.5</text>
<text class="r" transform="translate(343.1,366.2) rotate(-90)">4346 0.5</text>
<text class="r" transform="translate(364.4,324.1) rotate(-90)" font-size="8.5">高度调整开关</text>
<text class="r" transform="translate(434.9,354.2) rotate(-90)">5343 0.5</text>
<text class="r" transform="translate(458.3,354.2) rotate(-90)">5344 0.5</text>
<text class="r" transform="translate(102.4,472.2) rotate(-90)">0143 1.0</text>
<text class="r" transform="translate(135,474.2) rotate(-90)">4335 0.75</text>
<text class="r" transform="translate(164,474.2) rotate(-90)">4315 0.75</text>
<text class="r" transform="translate(192.2,474.2) rotate(-90)">4325 0.75</text>
<text class="r" transform="translate(246.1,474.2) rotate(-90)">4332 0.75</text>
<text class="r" transform="translate(264.3,474.2) rotate(-90)">4312 0.75</text>
<text class="r" transform="translate(282.3,474.2) rotate(-90)">4322 0.75</text>
<text class="r" transform="translate(587.9,360.7) rotate(-90)">4301 0.75</text>
<text class="r" transform="translate(633.6,360.7) rotate(-90)">4351 0.75</text>
<text class="r" transform="translate(650.1,360.7) rotate(-90)">4361 0.75</text>
<text class="r" transform="translate(667.2,360.7) rotate(-90)">4391 0.75</text>
<text class="r" transform="translate(699.9,315.6) rotate(-90)" font-size="10" textLength="36" lengthAdjust="spacingAndGlyphs">B-CAN_H</text>
<text class="r" transform="translate(699.9,366.2) rotate(-90)">5321 0.5</text>
<text class="r" transform="translate(719,315.6) rotate(-90)" font-size="10" textLength="36" lengthAdjust="spacingAndGlyphs">B-CAN_L</text>
<text class="r" transform="translate(719,366.2) rotate(-90)">5322 0.5</text>
<text class="r" transform="translate(748.4,365) rotate(-90)">4300 1.0</text>
<text class="r" transform="translate(845.1,360.7) rotate(-90)">4393 0.75</text>
<text class="r" transform="translate(861.5,360.7) rotate(-90)">4353 0.75</text>
<text class="r" transform="translate(877.6,360.7) rotate(-90)">4381 0.75</text>
<text class="r" transform="translate(922.9,365) rotate(-90)">4345 0.5</text>
<text class="r" transform="translate(942.8,365) rotate(-90)">4346 0.5</text>
<text class="r" transform="translate(966.1,325.3) rotate(-90)" font-size="8.5">高度调整开关</text>
<text class="r" transform="translate(1057.4,354.2) rotate(-90)">5343 0.5</text>
<text class="r" transform="translate(1079.2,354.2) rotate(-90)">5344 0.5</text>
<text class="r" transform="translate(586.8,472.2) rotate(-90)">0143 1.0</text>
<text class="r" transform="translate(620.2,474.2) rotate(-90)">4335 0.75</text>
<text class="r" transform="translate(649.1,474.2) rotate(-90)">4315 0.75</text>
<text class="r" transform="translate(676.7,474.2) rotate(-90)">4325 0.75</text>
<text class="r" transform="translate(731.3,474.2) rotate(-90)">4332 0.75</text>
<text class="r" transform="translate(749.4,474.2) rotate(-90)">4312 0.75</text>
<text class="r" transform="translate(767.5,474.2) rotate(-90)">4322 0.75</text>
<text class="r" transform="translate(806.2,474.2) rotate(-90)">4336 0.75</text>
<text class="r" transform="translate(835.1,474.2) rotate(-90)">4316 0.75</text>
<text class="r" transform="translate(863.2,474.2) rotate(-90)">4326 0.75</text>
<text class="r" transform="translate(889.8,474.2) rotate(-90)">4337 0.75</text>
<text class="r" transform="translate(919.1,474.2) rotate(-90)">4317 0.75</text>
<text class="r" transform="translate(947,474.2) rotate(-90)">4327 0.75</text>
<text class="r" transform="translate(966.2,469.8) rotate(-90)">4343 0.5</text>
<text class="r" transform="translate(1038.7,467.4) rotate(-90)">4348 0.5</text>
<text class="r" transform="translate(1038.7,539.7) rotate(-90)">0143 0.5</text>
<text class="r" transform="translate(1060.9,497.5) rotate(-90)" font-size="8">驱动辅助开关(自复位)</text>
<text class="r" transform="translate(1074.2,467.4) rotate(-90)">4344 0.5</text>
<text class="r" transform="translate(1094,467.4) rotate(-90)">4347 0.5</text>
<text class="r" transform="translate(1094,539.7) rotate(-90)">0143 0.5</text>
<text class="r" transform="translate(1115,498.7) rotate(-90)" font-size="8">举升桥控制开关(自复位)</text>
<text class="r" transform="translate(1324.5,311.1) rotate(-90)">4301 0.75</text>
<text class="r" transform="translate(1346.7,348.1) rotate(-90)" font-size="11.5">空气悬架高度调整开关</text>
<text class="r" transform="translate(1311.5,402.5) rotate(-90)">4351 0.75</text>
<text class="r" transform="translate(1351.8,490.5) rotate(-90)" font-size="11.5">空气悬架电磁阀</text>
<text class="r" transform="translate(1311.5,515.9) rotate(-90)">0100 0.75</text>
<text class="r" transform="translate(419.9,790.8) rotate(-90)">5501 0.75</text>
<text class="r" transform="translate(449.6,790.8) rotate(-90)">5500 0.75</text>
<text class="r" transform="translate(490.7,791.3) rotate(-90)">5511 0.75</text>
<text class="r" transform="translate(503.7,791.3) rotate(-90)">5512 0.75</text>
<text class="r" transform="translate(517.6,791.3) rotate(-90)">5513 0.75</text>
<text class="r" transform="translate(535.2,791.3) rotate(-90)">5521 0.75</text>
<text class="r" transform="translate(548.2,791.3) rotate(-90)">5522 0.75</text>
<text class="r" transform="translate(562,791.3) rotate(-90)">5523 0.75</text>
<text class="r" transform="translate(586.5,791.3) rotate(-90)">5531 0.75</text>
<text class="r" transform="translate(599.5,791.3) rotate(-90)">5532 0.75</text>
<text class="r" transform="translate(613.4,791.3) rotate(-90)">5533 0.75</text>
<text class="r" transform="translate(417.5,919.1) rotate(-90)">0155 0.75</text>
<text class="r" transform="translate(432.5,909.4) rotate(-90)">5321 0.5</text>
<text class="r" transform="translate(432.5,962.9) rotate(-90)" font-size="10" textLength="33" lengthAdjust="spacingAndGlyphs">B-CAN_H</text>
<text class="r" transform="translate(446.3,909.4) rotate(-90)">5322 0.5</text>
<text class="r" transform="translate(446.3,962.9) rotate(-90)" font-size="10" textLength="33" lengthAdjust="spacingAndGlyphs">B-CAN_L</text>
<text class="r" transform="translate(488.2,922.8) rotate(-90)">5541 0.75</text>
<text class="r" transform="translate(502.2,922.8) rotate(-90)">5542 0.75</text>
<text class="r" transform="translate(515.9,922.8) rotate(-90)">5543 0.75</text>
<text class="r" transform="translate(536,922.8) rotate(-90)">5551 0.75</text>
<text class="r" transform="translate(549.8,922.8) rotate(-90)">5552 0.75</text>
<text class="r" transform="translate(563.7,922.8) rotate(-90)">5553 0.75</text>
<text class="r" transform="translate(601.6,921.8) rotate(-90)">5561 0.75</text>
<text class="r" transform="translate(618.8,921.8) rotate(-90)">5562 0.75</text>
<text class="r" transform="translate(744.3,790.9) rotate(-90)">4400 0.75</text>
<text class="r" transform="translate(772.6,742.1) rotate(-90)" font-size="10" textLength="36" lengthAdjust="spacingAndGlyphs">B-CAN_H</text>
<text class="r" transform="translate(772.6,792.8) rotate(-90)">5321 0.5</text>
<text class="r" transform="translate(787.5,742.1) rotate(-90)" font-size="10" textLength="36" lengthAdjust="spacingAndGlyphs">B-CAN_L</text>
<text class="r" transform="translate(787.5,792.8) rotate(-90)">5322 0.5</text>
<text class="r" transform="translate(767.6,916.2) rotate(-90)">0144 0.75</text>
<text class="r" transform="translate(1235.7,786.7) rotate(-90)">5601 0.75</text>
<text class="r" transform="translate(1273,739.5) rotate(-90)" font-size="10" textLength="36" lengthAdjust="spacingAndGlyphs">B-CAN_H</text>
<text class="r" transform="translate(1273,790) rotate(-90)">5321 0.5</text>
<text class="r" transform="translate(1287.4,739.5) rotate(-90)" font-size="10" textLength="36" lengthAdjust="spacingAndGlyphs">B-CAN_L</text>
<text class="r" transform="translate(1287.4,790) rotate(-90)">5322 0.5</text>
<text class="r" transform="translate(1317.6,790) rotate(-90)">8210 0.5</text>
<text class="r" transform="translate(1231.5,911.1) rotate(-90)">0156 0.75</text>
<text class="r" transform="translate(1249.7,911.1) rotate(-90)">5621 0.75</text>
<text class="r" transform="translate(1261.8,937.4) rotate(-90)" font-size="7">疲劳驾驶预警关闭开关(自复位)</text>
<text class="r" transform="translate(1277.4,909.2) rotate(-90)" font-size="9.5">5631 0.5</text>
<text class="r" transform="translate(1291.6,909.2) rotate(-90)" font-size="9.5">5632 0.5</text>
<text class="r" transform="translate(1306.1,909.2) rotate(-90)" font-size="9.5">5633 0.5</text>
<text class="r" transform="translate(1319.9,909.2) rotate(-90)" font-size="9.5">5634 0.5</text>
<text class="r" transform="translate(1333.7,909.2) rotate(-90)" font-size="9.5">5635 0.5</text>
<text class="r" transform="translate(1347.6,909.2) rotate(-90)" font-size="9.5">5636 0.5</text>
<text class="r" transform="translate(1277.4,954) rotate(-90)" font-size="8.5">12V +</text>
<text class="r" transform="translate(1291.6,954) rotate(-90)" font-size="8.5">12V −</text>
<text class="r" transform="translate(1306.1,947.4) rotate(-90)" font-size="8.5">视频信号</text>
<text class="r" transform="translate(1319.9,952.5) rotate(-90)" font-size="8.5">视频地</text>
<text class="r" transform="translate(1333.7,951.6) rotate(-90)" font-size="8.5">LED +</text>
<text class="r" transform="translate(1347.6,958) rotate(-90)" font-size="8.5">LED −</text>
</g>
</g>
</svg>
</body></html>
